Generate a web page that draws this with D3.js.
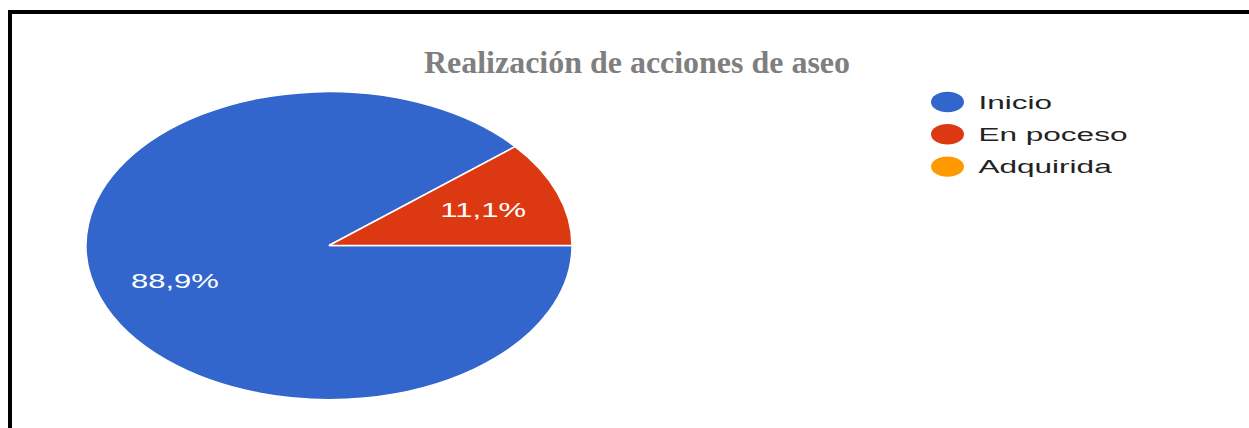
<!DOCTYPE html>
<html>
<head>
<meta charset="utf-8">
<script src="https://cdn.jsdelivr.net/npm/d3@7"></script>
<style>
  body { margin: 0; background: #fff; }
  svg { display: block; }
</style>
</head>
<body>
<div id="chart"></div>
<script>
const title = "Realización de acciones de aseo";
const categories = ["Inicio", "En poceso", "Adquirida"];
const values = [88.9, 11.1, 0];
const labels = ["88,9%", "11,1%", ""];
const colors = ["#3366cc", "#dc3912", "#ff9900"];

const W = 1249, H = 428;
const svg = d3.select("#chart").append("svg")
  .attr("width", W)
  .attr("height", H);

svg.append("rect").attr("width", W).attr("height", H).attr("fill", "#fff");

// frame (only left and top edges are in view)
svg.append("path")
  .attr("d", `M10,${H} L10,12 L${W},12`)
  .attr("fill", "none")
  .attr("stroke", "#000")
  .attr("stroke-width", 4);

// title
svg.append("text")
  .attr("x", 637)
  .attr("y", 73)
  .attr("text-anchor", "middle")
  .attr("font-family", "'Liberation Serif', 'Times New Roman', serif")
  .attr("font-weight", "bold")
  .attr("font-size", 32)
  .attr("fill", "#7f7f7f")
  .attr("textLength", 426)
  .attr("lengthAdjust", "spacingAndGlyphs")
  .text(title);

// pie: drawn on a unit circle, stretched into an ellipse
const cx = 329, cy = 245.5, rx = 243, ry = 154;
const data = categories.map((c, i) => ({ name: c, value: values[i], label: labels[i], color: colors[i] }));

const pie = d3.pie()
  .sort(null)
  .value((d) => d.value)
  .startAngle(Math.PI / 2)
  .endAngle(Math.PI / 2 + 2 * Math.PI);

const arcs = pie(data);
const arc = d3.arc().innerRadius(0).outerRadius(1);
const labelArc = d3.arc().innerRadius(0.675).outerRadius(0.675);

const pieG = svg.append("g")
  .attr("transform", `translate(${cx},${cy}) scale(${rx},${ry})`);

pieG.selectAll("path")
  .data(arcs.filter((d) => d.value > 0))
  .enter()
  .append("path")
  .attr("d", arc)
  .attr("fill", (d) => d.data.color)
  .attr("stroke", "#fff")
  .attr("stroke-width", 1.5)
  .attr("vector-effect", "non-scaling-stroke");

// percentage labels (the picture is stretched sideways)
const labelStretch = 1.55;
svg.append("g")
  .selectAll("text")
  .data(arcs.filter((d) => d.value > 0))
  .enter()
  .append("text")
  .attr("transform", (d) => {
    const [x, y] = labelArc.centroid(d);
    return `translate(${cx + x * rx},${cy + y * ry + 7}) scale(${labelStretch},1)`;
  })
  .attr("text-anchor", "middle")
  .attr("font-family", "'Liberation Sans', Arial, sans-serif")
  .attr("font-size", 20)
  .attr("fill", "#fff")
  .text((d) => d.data.label);

// legend
const legendStretch = 1.66;
const legend = svg.append("g")
  .selectAll("g")
  .data(data)
  .enter()
  .append("g")
  .attr("transform", (d, i) => `translate(947.5,${102 + i * 32.3})`);

legend.append("ellipse")
  .attr("rx", 16.5)
  .attr("ry", 10.2)
  .attr("fill", (d) => d.color);

legend.append("text")
  .attr("transform", "translate(31,6.5) scale(" + legendStretch + ",1)")
  .attr("font-family", "'Liberation Sans', Arial, sans-serif")
  .attr("font-size", 19)
  .attr("fill", "#222")
  .text((d) => d.name);
</script>
</body>
</html>
